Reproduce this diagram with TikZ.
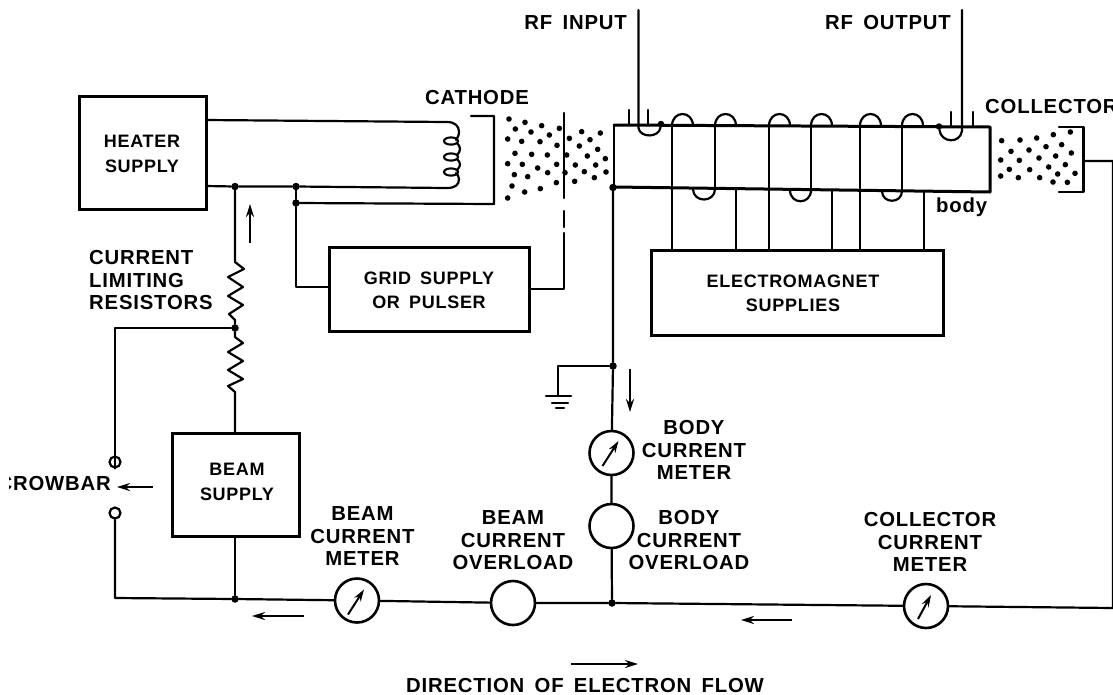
\documentclass[tikz,border=0pt]{standalone}
\usepackage{fontspec}
\setmainfont{Liberation Sans}[LetterSpace=4,WordSpace=1.6]
\usetikzlibrary{arrows.meta}
\tikzset{
  x=1pt,y=-1pt,
  wire/.style={line width=2.2pt,line cap=round,line join=round},
  heavy/.style={line width=3pt,line cap=round,line join=round},
  thinw/.style={line width=1.8pt,line cap=round},
  box/.style={draw,line width=3pt,inner sep=0pt,align=center},
  lbl/.style={inner sep=0pt,align=center,font=\fontsize{20.3}{22.5}\selectfont\bfseries},
  boxlbl/.style={inner sep=0pt,align=center,font=\fontsize{18}{24.5}\selectfont\bfseries},
  lblL/.style={lbl,align=left},
  meterc/.style={draw,circle,line width=2.6pt,minimum size=44pt,inner sep=0pt,fill=white},
  jn/.style={circle,fill=black,inner sep=0pt,minimum size=7.5pt},
  contact/.style={circle,draw,line width=2.2pt,fill=white,inner sep=0pt,minimum size=11pt},
  flow/.style={line width=2.5pt,-{Stealth[length=13pt,width=8pt]}},
  needle/.style={line width=2pt,-{Stealth[length=12pt,width=7.5pt]}},
  edot/.style={circle,fill=black,inner sep=0pt,minimum size=5.6pt}
}
\newcommand{\upbump}[3]{\draw[wire] (#1,#3) .. controls (#1,#3-16) and (#2,#3-16) .. (#2,#3);}
\newcommand{\downbump}[4]{\draw[wire] (#1,#3) .. controls (#1,#3+#4) and (#2,#3+#4) .. (#2,#3);}
\begin{document}
\begin{tikzpicture}
\useasboundingbox (0,0) rectangle (1113,694);
% boxes
\node[box,minimum width=127pt,minimum height=113pt] (heater) at (142.5,152.5) {};
\node[box,minimum width=200pt,minimum height=84pt] (grid) at (429,289.5) {};
\node[box,minimum width=292pt,minimum height=85pt] (em) at (797,293) {};
\node[box,minimum width=127pt,minimum height=103pt] (beam) at (235.5,484.5) {};
% box labels
\node[boxlbl] (heatertxt) at (142,154) {HEATER\\SUPPLY};
\node[boxlbl] (gridtxt) at (429,290.5) {GRID SUPPLY\\OR PULSER};
\node[boxlbl] (emtxt) at (793,293.5) {ELECTROMAGNET\\SUPPLIES};
\node[boxlbl] (beamtxt) at (237,482) {BEAM\\SUPPLY};
% tube body
\coordinate (tl) at (614,125); \coordinate (tr) at (990,127);
\coordinate (br) at (990,192); \coordinate (bl) at (614,187);
\draw[heavy] (tl) -- (tr) -- (br) -- (bl);
\draw[wire] (tl) -- (bl);
% heater wiring and coil
\coordinate (h1) at (206,120); \coordinate (h2) at (206,186);
\coordinate (ct) at (447,122); \coordinate (cb) at (447,188);
\node[jn] (j1) at (235,186.5) {};
\node[jn] (j2) at (296,186.5) {};
\draw[wire] (h1) -- (ct) .. controls (455,122) and (459,126) .. (459,132) .. controls (459,136) and (457,138) .. (456,140);
\draw[wire] (h2) -- (j1) -- (j2) -- (cb) .. controls (455,188) and (459,185) .. (459,179) .. controls (459,176) and (457,174) .. (456,173);
\foreach \c in {141,157,172}{\draw[line width=2.1pt] (451,\c) ellipse [x radius=7,y radius=3.6];}
\draw[wire] (457,143) .. controls (461,147) and (461,151) .. (457,155);
\draw[wire] (457,159) .. controls (461,163) and (461,166) .. (457,170);
% cathode
\node[jn] (cj) at (296,203) {};
\coordinate (c1) at (494,204); \coordinate (c2) at (494,116); \coordinate (c3) at (471,116);
\draw[wire] (j2) -- (cj);
\draw[wire] (cj) -- (c1) -- (c2) -- (c3);
\coordinate (g1) at (329,287);
\coordinate (g2) at (296,287);
\draw[wire] (cj) -- (g2) -- (g1);
% grid electrode
\draw[wire] (564,113) -- (564,198);
\draw[wire] (564,211) -- (564,227);
\coordinate (gs) at (529,289);
\coordinate (gc) at (564,289);
\draw[wire] (564,233) -- (gc) -- (gs);
% resistors
\node[jn] (j3) at (235,328) {};
\coordinate (r1) at (235,262); \coordinate (r2) at (235,337); \coordinate (r3) at (235,392);
\draw[wire] (j1) -- (r1) -- (244,269) -- (228,277) -- (243,287) -- (228,296) -- (243,305) -- (229,314) -- (235,320) -- (j3);
\draw[wire] (j3) -- (r2) -- (243,343) -- (228,352) -- (243,361) -- (228,370) -- (243,379) -- (228,386) -- (r3) -- (beam.north -| r3);
% crowbar
\node[contact] (sw1) at (115,462) {};
\node[contact] (sw2) at (115,513) {};
\coordinate (cw) at (115,328);
\draw[wire] (j3) -- (cw) -- (sw1.south);
\coordinate (cb2) at (115,598);
\node[jn] (j4) at (235,599) {};
% bottom rail meters
\node[meterc] (m1) at (357,600.5) {};
\node[meterc] (o1) at (513,603) {};
\node[jn] (j5) at (612,603) {};
\node[meterc] (m3) at (926,606) {};
\coordinate (ce) at (1113,608);
\coordinate (cc) at (1113,161);
\coordinate (cs) at (1084,161);
\draw[wire] (sw2) -- (cb2) -- (j4) -- (m1) -- (o1) -- (j5) -- (m3) -- (ce) -- (cc) -- (cs);
\draw[wire] (beam.south -| j4) -- (j4);
% body meter column
\node[jn] (j6) at (613,187.5) {};
\node[jn] (j7) at (613,366) {};
\node[meterc] (m2) at (611.5,453) {};
\node[meterc] (o2) at (611.5,526) {};
\draw[wire] (j6) -- (j7) -- (m2) -- (o2) -- (j5);
% needles
\draw[needle] (m1.center) ++(-9,14) -- ++(16,-25);
\draw[needle] (m2.center) ++(-9,13) -- ++(16,-25);
\draw[needle] (m3.center) ++(-8,13) -- ++(13,-24);
% ground
\coordinate (gnd) at (558,366); \coordinate (gnd2) at (558,396);
\draw[wire] (j7) -- (gnd) -- (gnd2);
\draw[heavy,line width=2.4pt] (546,396) -- (571,396);
\draw[heavy,line width=2.4pt] (552,403) -- (568,403);
\draw[heavy,line width=2.4pt] (556,408) -- (564,408);
% RF coupling
\node[jn,minimum size=6.5pt] (d1) at (661,124) {};
\node[jn,minimum size=6.5pt] (d2) at (939,126.5) {};
\coordinate (rfi) at (638.5,10); \coordinate (rfie) at (638.5,128);
\coordinate (rfo) at (962,10); \coordinate (rfoe) at (962,131);
\draw[wire] (rfi) -- (rfie) .. controls (640,138) and (659,138) .. (d1);
\draw[wire] (rfo) -- (rfoe) .. controls (960,144) and (941,143) .. (d2);
\foreach \x in {629,648}{\draw[wire] (\x,110) -- (\x,125);}
\foreach \x in {951,973}{\draw[wire] (\x,112) -- (\x,127);}
% focus coils: upper bumps
\upbump{672}{693}{126}
\upbump{715}{736}{126}
\upbump{769}{790}{126}
\upbump{811}{832}{126}
\upbump{860}{881}{126}
\upbump{902}{923}{126}
% lower bumps
\downbump{693}{715}{189}{14}
\downbump{790}{811}{190}{15}
\downbump{882}{902}{191}{13}
% coil leads
\coordinate (t1) at (672,126); \coordinate (t2) at (715,126);
\coordinate (t3) at (769,126); \coordinate (t4) at (811,126);
\coordinate (t5) at (860,126); \coordinate (t6) at (902,126);
\coordinate (b1) at (736,189); \coordinate (b2) at (832,190); \coordinate (b3) at (924,191);
\foreach \p in {t1,t3,t5,b1,b2,b3}{\draw[thinw] (\p) -- (\p |- em.north);}
\draw[thinw] (t2) -- (715,189);
\draw[thinw] (t4) -- (811,190);
\draw[thinw] (t6) -- (902,191);
% collector bracket
\coordinate (k1) at (1059,127); \coordinate (k2) at (1083.5,127);
\coordinate (k3) at (1083.5,192); \coordinate (k4) at (1059,192);
\draw[wire,line width=2.4pt] (k1) -- (k2) -- (k3) -- (k4);
% electron beam dots
\foreach \a/\b in {57/57,105/67,76/87,155/77,123/96,208/85,178/105,53/117,95/124,150/125,201/136,238/115,275/95,331/99,300/119,268/138,323/148,75/160,125/163,172/165,230/165,292/168,346/176,53/191,97/193,143/204,200/193,256/195,317/195,173/218,225/218,283/215,348/216,73/224,113/230,313/233,199/248,254/244,66/258,104/276,151/266,53/294}
  {\node[edot] at ({490+\a/3},{100+\b/3}) {};}
\foreach \a/\b in {50/92,105/90,155/84,205/74,256/66,183/110,230/104,78/124,132/120,259/129,47/150,103/151,162/144,212/138,241/164,191/171,73/178,134/179,270/190,218/192,47/198,100/203,164/203,204/216,247/217}
  {\node[edot] at ({985+\a/3},{110+\b/3}) {};}
% flow arrows
\coordinate (f1a) at (250,243); \coordinate (f1b) at (250,204);
\coordinate (f2a) at (152.5,487); \coordinate (f2b) at (117,487);
\coordinate (f3a) at (303.5,616); \coordinate (f3b) at (252,616);
\coordinate (f4a) at (792,620); \coordinate (f4b) at (741,620);
\coordinate (f5a) at (630,369); \coordinate (f5b) at (630,412);
\coordinate (f6a) at (571,664); \coordinate (f6b) at (638,664);
\foreach \s/\e in {f1a/f1b,f2a/f2b,f3a/f3b,f4a/f4b,f5a/f5b,f6a/f6b}{\draw[flow] (\s) -- (\e);}
% labels
\node[lbl,anchor=east] (rfin) at (627,23) {RF INPUT};
\node[lbl,anchor=east] (rfout) at (951,23) {RF OUTPUT};
\node[lbl] (cath) at (477,98) {CATHODE};
\node[lbl,anchor=west] (coll) at (985,107) {COLLECTOR};
\node[lbl,anchor=west] (body) at (936,207) {body};
\node[lblL,anchor=west] (res) at (89,280.5) {CURRENT\\LIMITING\\RESISTORS};
\begin{scope}
\clip (9,470) rectangle (114,500);
\node[lbl,anchor=east] (crow) at (111,484) {CROWBAR};
\end{scope}
\node[lbl] (t1l) at (362.5,536.5) {BEAM\\CURRENT\\METER};
\node[lbl] (t2l) at (513,540.5) {BEAM\\CURRENT\\OVERLOAD};
\node[lbl] (t3l) at (694,450) {BODY\\CURRENT\\METER};
\node[lbl] (t4l) at (689,540.5) {BODY\\CURRENT\\OVERLOAD};
\node[lbl] (t5l) at (930,542) {COLLECTOR\\CURRENT\\METER};
\node[lbl] (dir) at (585,685) {DIRECTION OF ELECTRON FLOW};
\end{tikzpicture}
\end{document}
